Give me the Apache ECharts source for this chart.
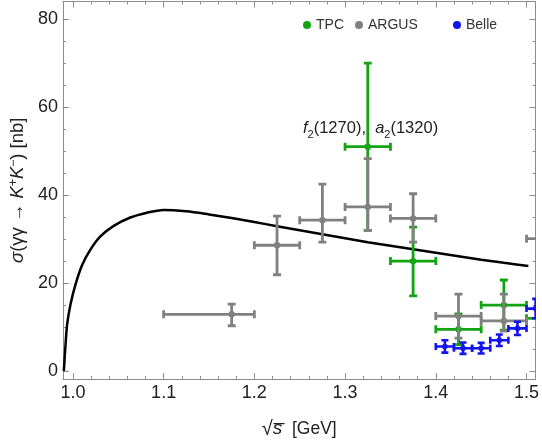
<!DOCTYPE html>
<html>
<head>
<meta charset="utf-8">
<script src="https://cdn.jsdelivr.net/npm/echarts@6/dist/echarts.min.js"></script>
<style>
  html, body { margin:0; padding:0; background:#fff; }
  #chart { width:542px; height:444px; }
</style>
</head>
<body>
<div id="chart"></div>
<script>
// ===== data =====
// model curve
const curveX = [0.990, 0.9919, 0.9937, 0.9974, 1.0029, 1.0102, 1.0193, 1.0303, 1.045, 1.0633, 1.0817, 1.100, 1.125, 1.150, 1.175, 1.200, 1.225, 1.250, 1.275, 1.300, 1.325, 1.350, 1.375, 1.400, 1.425, 1.450, 1.475, 1.502];
const curveY = [0.0, 6.1, 10.7, 15.2, 19.7, 24.1, 27.6, 30.6, 33.0, 34.9, 36.0, 36.6, 36.3, 35.6, 34.8, 33.9, 32.9, 32.0, 31.1, 30.2, 29.3, 28.5, 27.7, 26.9, 26.1, 25.3, 24.6, 23.9];

// TPC
const tpcX   = [1.325, 1.375, 1.425, 1.475, 1.525];
const tpcY   = [51.0, 25.0, 9.5, 15.0, 12.0];
const tpcYlo = [32.0, 17.1, 6.0, 9.3, 8.0];
const tpcYhi = [70.0, 32.7, 13.0, 20.7, 16.0];
const tpcXlo = [1.300, 1.350, 1.400, 1.450, 1.500];
const tpcXhi = [1.350, 1.400, 1.450, 1.500, 1.550];

// ARGUS
const argX   = [1.175, 1.225, 1.275, 1.325, 1.375, 1.425, 1.475, 1.525];
const argY   = [12.9, 28.6, 34.3, 37.3, 34.7, 12.5, 11.4, 30.1];
const argYlo = [10.3, 21.9, 29.3, 32.0, 29.3, 7.5, 9.1, 25.0];
const argYhi = [15.2, 35.2, 42.5, 48.3, 40.3, 17.5, 17.5, 35.0];
const argXlo = [1.100, 1.200, 1.250, 1.300, 1.350, 1.400, 1.450, 1.500];
const argXhi = [1.200, 1.250, 1.300, 1.350, 1.400, 1.450, 1.500, 1.550];

// Belle
const belX   = [1.41, 1.43, 1.45, 1.47, 1.49, 1.51];
const belY   = [5.6, 5.2, 5.2, 7.0, 9.7, 14.2];
const belErr = [1.4, 1.3, 1.2, 1.3, 1.5, 2.2];
const belXerr = 0.01;

// ticks
const xMajor = [1.0, 1.1, 1.2, 1.3, 1.4, 1.5];
const xMinor = [];
for (let i = 0; i <= 25; i++) { const v = Math.round((1.0 + i*0.02)*100)/100; if (i % 5) xMinor.push(v); }
const yMajor = [0, 20, 40, 60, 80];
const yMinor = [5,10,15,25,30,35,45,50,55,65,70,75];

const X_MIN = 0.989, X_MAX = 1.510;
const Y_MIN = -1.8,  Y_MAX = 84;

const FONT = '"Liberation Sans", Arial, sans-serif';
const FRAME = '#8c8c8c';
const C_TPC = '#13a313', C_ARG = '#808080', C_BEL = '#1414ee';

// ===== helpers =====
function errRender(color, cap, lw, r){
  return function(params, api){
    const c  = api.coord([api.value(0), api.value(1)]);
    const l  = api.coord([api.value(2), api.value(1)]);
    const rt = api.coord([api.value(3), api.value(1)]);
    const lo = api.coord([api.value(0), api.value(4)]);
    const hi = api.coord([api.value(0), api.value(5)]);
    const st = { stroke: color, lineWidth: lw };
    return {
      type: 'group',
      children: [
        { type:'line', shape:{ x1:l[0], y1:c[1], x2:rt[0], y2:c[1] }, style:st },
        { type:'line', shape:{ x1:c[0], y1:lo[1], x2:c[0], y2:hi[1] }, style:st },
        { type:'line', shape:{ x1:l[0], y1:c[1]-cap, x2:l[0], y2:c[1]+cap }, style:st },
        { type:'line', shape:{ x1:rt[0], y1:c[1]-cap, x2:rt[0], y2:c[1]+cap }, style:st },
        { type:'line', shape:{ x1:c[0]-cap, y1:lo[1], x2:c[0]+cap, y2:lo[1] }, style:st },
        { type:'line', shape:{ x1:c[0]-cap, y1:hi[1], x2:c[0]+cap, y2:hi[1] }, style:st },
        { type:'circle', shape:{ cx:c[0], cy:c[1], r:r }, style:{ fill: color } }
      ]
    };
  };
}

function xAxisCfg(pos, major, extra){
  return Object.assign({
    type:'value', min:X_MIN, max:X_MAX, position:pos,
    axisLine:{ show: major, onZero:false, lineStyle:{ color:FRAME, width:1 } },
    axisTick:{ inside:true, length: major ? 6 : 3, customValues: major ? xMajor : xMinor, lineStyle:{ color:FRAME } },
    axisLabel:{ show:false },
    splitLine:{ show:false }
  }, extra || {});
}
function yAxisCfg(pos, major, extra){
  return Object.assign({
    type:'value', min:Y_MIN, max:Y_MAX, position:pos,
    axisLine:{ show: major, onZero:false, lineStyle:{ color:FRAME, width:1 } },
    axisTick:{ inside:true, length: major ? 6 : 3, customValues: major ? yMajor : yMinor, lineStyle:{ color:FRAME } },
    axisLabel:{ show:false },
    splitLine:{ show:false }
  }, extra || {});
}

const tpcData = tpcX.map((x,i)=>[x, tpcY[i], tpcXlo[i], tpcXhi[i], tpcYlo[i], tpcYhi[i]]);
const argData = argX.map((x,i)=>[x, argY[i], argXlo[i], argXhi[i], argYlo[i], argYhi[i]]);
const belData = belX.map((x,i)=>[x, belY[i], x-belXerr, x+belXerr, belY[i]-belErr[i], belY[i]+belErr[i]]);

const legendBase = {
  icon:'circle', itemWidth:8, itemHeight:8, top:13,
  textStyle:{ fontSize:14, color:'#333', fontFamily: FONT }
};

const chart = echarts.init(document.getElementById('chart'), null, { renderer:'canvas' });

chart.setOption({
  animation:false,
  backgroundColor:'#fff',
  textStyle:{ fontFamily: FONT },
  grid:{ left:60.7, right:6.3, top:1.5, bottom:64, containLabel:false },
  legend:[
    Object.assign({ data:['TPC'],   left:298 }, legendBase),
    Object.assign({ data:['ARGUS'], left:350 }, legendBase),
    Object.assign({ data:['Belle'], left:448 }, legendBase)
  ],
  xAxis:[
    xAxisCfg('bottom', true, {
      axisLabel:{ show:true, customValues:xMajor, formatter:v=>v.toFixed(1), fontSize:18, color:'#222', margin:5, fontFamily:FONT },
      name:'{r|√}{s|s\u0305}  [GeV]', nameLocation:'middle', nameGap:40,
      nameTextStyle:{ fontSize:17.5, color:'#222', fontFamily:FONT,
        rich:{ r:{ fontSize:20, color:'#222' }, s:{ fontSize:19, fontStyle:'italic', color:'#222' } } }
    }),
    xAxisCfg('bottom', false),
    xAxisCfg('top', true),
    xAxisCfg('top', false)
  ],
  yAxis:[
    yAxisCfg('left', true, {
      axisLabel:{ show:true, customValues:yMajor, fontSize:18, color:'#222', margin:5, fontFamily:FONT },
      name:'{i|σ}(γγ → {i|K}{sup|+}{i|K}{sup|−}) [nb]', nameLocation:'middle', nameGap:31, nameRotate:90,
      nameTextStyle:{ fontSize:18.5, color:'#222', fontFamily:FONT,
        rich:{ i:{ fontSize:18.5, fontStyle:'italic', color:'#222' }, sup:{ fontSize:12, color:'#222', verticalAlign:'top' } } }
    }),
    yAxisCfg('left', false),
    yAxisCfg('right', true),
    yAxisCfg('right', false)
  ],
  graphic:[
    {
      type:'text', left:303, top:120, z:10,
      style:{
        text:'{i|f}{s|2}(1270),  {i|a}{s|2}(1320)',
        fontSize:16.5, fill:'#222', fontFamily:FONT,
        rich:{ i:{ fontSize:16.5, fontStyle:'italic', fill:'#222' }, s:{ fontSize:11, fill:'#222', verticalAlign:'bottom', lineHeight:24 } }
      }
    }
  ],
  series:[
    {
      name:'model', type:'line', xAxisIndex:0, yAxisIndex:0,
      data: curveX.map((x,i)=>[x, curveY[i]]),
      symbol:'none', smooth:0.3,
      lineStyle:{ color:'#000', width:2.5 }, z:3
    },
    {
      name:'TPC', type:'custom', xAxisIndex:0, yAxisIndex:0, clip:true,
      itemStyle:{ color:C_TPC }, encode:{ x:0, y:1 },
      renderItem: errRender(C_TPC, 4, 2.8, 3.2), data: tpcData, z:4
    },
    {
      name:'ARGUS', type:'custom', xAxisIndex:0, yAxisIndex:0, clip:true,
      itemStyle:{ color:C_ARG }, encode:{ x:0, y:1 },
      renderItem: errRender(C_ARG, 4, 2.8, 3.2), data: argData, z:5
    },
    {
      name:'Belle', type:'custom', xAxisIndex:0, yAxisIndex:0, clip:true,
      itemStyle:{ color:C_BEL }, encode:{ x:0, y:1 },
      renderItem: errRender(C_BEL, 3.5, 2.6, 2.8), data: belData, z:6
    }
  ]
});
</script>
</body>
</html>
